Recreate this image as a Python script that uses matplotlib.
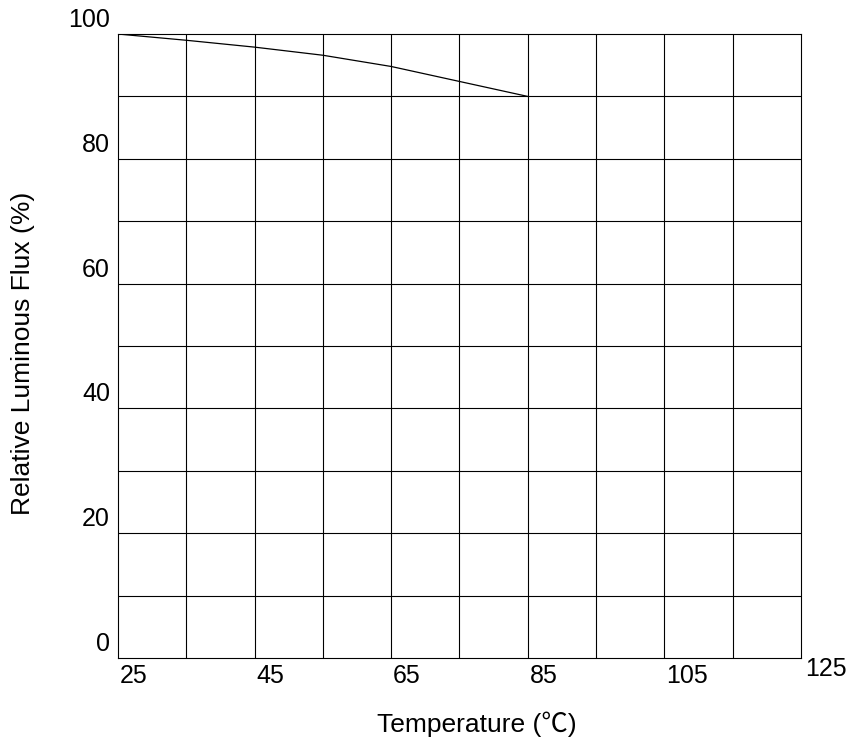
import matplotlib
matplotlib.use("Agg")
import matplotlib.pyplot as plt
import numpy as np

# Relative luminous flux vs temperature
temperature = [25, 35, 45, 55, 65, 75, 85]
rel_flux = [100, 99.0, 97.9, 96.6, 94.8, 92.4, 90]

x_ticks = [25, 45, 65, 85, 105, 125]
y_ticks = [0, 20, 40, 60, 80, 100]

plt.rcParams['font.family'] = ['Liberation Sans', 'Noto Sans CJK SC', 'DejaVu Sans']

fig = plt.figure(figsize=(8.53, 7.43), dpi=100)
ax = fig.add_axes([0.1383, 0.1144, 0.939 - 0.1383, 0.9542 - 0.1144])

ax.set_xlim(25, 125)
ax.set_ylim(0, 100)

# grid every 10 units
for gx in np.arange(35, 125, 10):
    ax.axvline(gx, color='black', lw=0.8)
for gy in np.arange(10, 100, 10):
    ax.axhline(gy, color='black', lw=0.8)
for s in ax.spines.values():
    s.set_linewidth(0.8)

ax.plot(temperature, rel_flux, color='black', lw=0.9)

ax.set_xticks([])
ax.set_yticks([])

# tick labels sit beside the grid lines, datasheet style
for yv in y_ticks:
    ax.annotate(str(yv), xy=(0, yv), xycoords=('axes fraction', 'data'),
                xytext=(-8, 2), textcoords='offset pixels',
                ha='right', va='bottom', fontsize=18)
for xv in x_ticks:
    dy = -6 if xv != 125 else 1
    dx = 2 if xv != 125 else 4
    ax.annotate(str(xv), xy=(xv, 0), xycoords=('data', 'axes fraction'),
                xytext=(dx, dy), textcoords='offset pixels',
                ha='left', va='top', fontsize=18)

fig.text(477 / 853, 1 - 724 / 743, 'Temperature (℃)', ha='center', va='center', fontsize=19)
fig.text(23 / 853, 1 - 353 / 743, 'Relative Luminous Flux (%)', ha='center', va='center',
         rotation=90, fontsize=19)

fig.savefig('out.png', dpi=100)
